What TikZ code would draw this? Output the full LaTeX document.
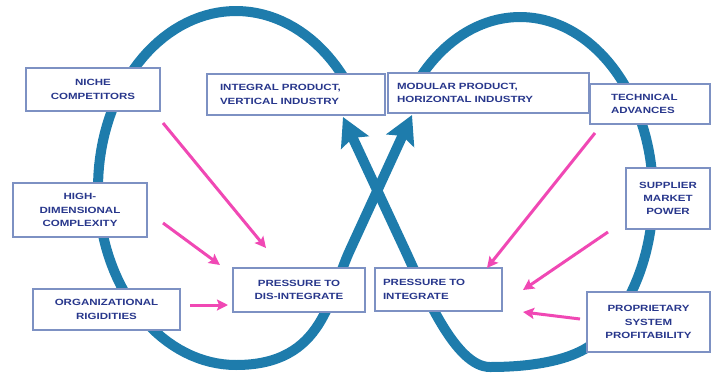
\documentclass[tikz,border=0pt]{standalone}
\usepackage{fontspec}
\newfontfamily\boxfont{Liberation Sans}[FakeStretch=1.28]
\usetikzlibrary{arrows.meta}
\definecolor{bandblue}{RGB}{30,124,172}
\definecolor{hotpink}{RGB}{240,72,180}
\definecolor{boxedge}{RGB}{125,145,195}
\definecolor{navytext}{RGB}{40,55,140}
\begin{document}
\begin{tikzpicture}[x=1pt,y=-1pt,
  band/.style={draw=bandblue, line width=10pt, line join=round,
    -{Stealth[length=28pt,width=30pt,inset=5pt]}},
  pinkarrow/.style={draw=hotpink, line width=3pt,
    -{Stealth[length=11pt,width=11pt,inset=2pt]}},
  box/.style={draw=boxedge, line width=1.6pt, fill=white, text=navytext,
    inner ysep=0pt, font=\boxfont\bfseries\fontsize{9}{13.3}\selectfont},
  cbox/.style={box, align=center, inner xsep=2pt},
  lbox/.style={box, align=left}
]
\useasboundingbox (0,0) rectangle (711,372);

% blue figure-eight bands
\draw[band] plot[domain=30:270, samples=90, variable=\t]
    ({236+138*cos(\t)}, {188-177*sin(\t)})
  .. controls (325,365) and (329,295) .. (350,250) -- (412,115);
\draw[band] plot[domain=-145:55, samples=90, variable=\t]
    ({520+133*cos(\t)}, {195+178*sin(\t)})
  .. controls (574,361) and (530,367) .. (490,367)
  .. controls (455,367) and (424,291) .. (405,250) -- (343,117);

% boxes
\node[cbox, minimum width=134pt, minimum height=43pt] (niche) at (93,89.5) {NICHE\\COMPETITORS};
\node[lbox, text width=152pt, inner xsep=13pt, minimum height=41pt] (integral) at (296,94.5) {INTEGRAL PRODUCT,\\VERTICAL INDUSTRY};
\node[lbox, text width=183pt, inner xsep=9pt, minimum height=40pt] (modular) at (488.5,93) {MODULAR PRODUCT,\\HORIZONTAL INDUSTRY};
\node[lbox, text width=78pt, inner xsep=21pt, minimum height=40pt] (technical) at (650,104) {TECHNICAL\\ADVANCES};
\node[cbox, minimum width=84pt, minimum height=61pt] (supplier) at (668,198.5) {SUPPLIER\\MARKET\\POWER};
\node[cbox, minimum width=134pt, minimum height=54pt] (highdim) at (80,210) {HIGH-\\DIMENSIONAL\\COMPLEXITY};
\node[cbox, minimum width=147pt, minimum height=41pt] (org) at (106.5,309.5) {ORGANIZATIONAL\\RIGIDITIES};
\node[cbox, minimum width=132pt, minimum height=44pt] (dis) at (299,290) {PRESSURE TO\\DIS-INTEGRATE};
\node[lbox, text width=111pt, inner xsep=8pt, minimum height=43pt] (integ) at (438.5,289.5) {PRESSURE TO\\INTEGRATE};
\node[cbox, minimum width=123pt, minimum height=60pt] (prop) at (648.5,322) {PROPRIETARY\\SYSTEM\\PROFITABILITY};

% pink arrows
\coordinate (p1a) at (163,123); \coordinate (p1b) at (266,248);
\coordinate (p2a) at (163,223); \coordinate (p2b) at (220,265);
\coordinate (p3a) at (190,305); \coordinate (p3b) at (228,305);
\coordinate (p4a) at (595,133); \coordinate (p4b) at (487,268);
\coordinate (p5a) at (608,232); \coordinate (p5b) at (523,290);
\coordinate (p6a) at (580,319); \coordinate (p6b) at (523,312);
\draw[pinkarrow] (p1a) -- (p1b);
\draw[pinkarrow] (p2a) -- (p2b);
\draw[pinkarrow] (p3a) -- (p3b);
\draw[pinkarrow] (p4a) -- (p4b);
\draw[pinkarrow] (p5a) -- (p5b);
\draw[pinkarrow] (p6a) -- (p6b);
\end{tikzpicture}
\end{document}
